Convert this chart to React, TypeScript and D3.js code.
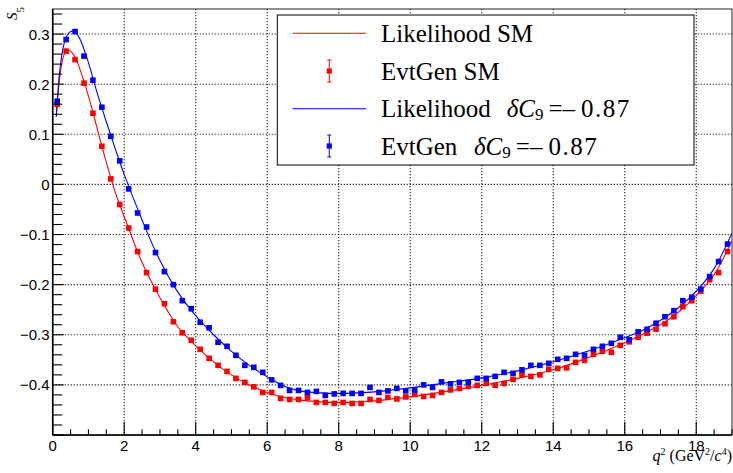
import React, { useEffect, useRef } from 'react';
import * as d3 from 'd3';

// bin centres of the EvtGen samples (GeV^2/c^4)
const qBins = [
  0.125, 0.375, 0.625, 0.875, 1.125, 1.375, 1.625, 1.875, 2.125, 2.375, 2.625, 2.875,
  3.125, 3.375, 3.625, 3.875, 4.125, 4.375, 4.625, 4.875, 5.125, 5.375, 5.625, 5.875,
  6.125, 6.375, 6.625, 6.875, 7.125, 7.375, 7.625, 7.875, 8.125, 8.375, 8.625, 8.875,
  9.125, 9.375, 9.625, 9.875, 10.125, 10.375, 10.625, 10.875, 11.125, 11.375, 11.625, 11.875,
  12.125, 12.375, 12.625, 12.875, 13.125, 13.375, 13.625, 13.875, 14.125, 14.375, 14.625, 14.875,
  15.125, 15.375, 15.625, 15.875, 16.125, 16.375, 16.625, 16.875, 17.125, 17.375, 17.625, 17.875,
  18.125, 18.375, 18.625, 18.875,
];

const evtGenSM = [
  0.160, 0.266, 0.249, 0.202, 0.142, 0.076, 0.011, -0.040, -0.087, -0.134, -0.176, -0.209,
  -0.238, -0.274, -0.296, -0.311, -0.329, -0.347, -0.361, -0.373, -0.387, -0.395, -0.404, -0.415,
  -0.415, -0.427, -0.429, -0.429, -0.425, -0.435, -0.435, -0.437, -0.435, -0.437, -0.437, -0.429,
  -0.431, -0.425, -0.428, -0.424, -0.419, -0.423, -0.421, -0.415, -0.410, -0.407, -0.403, -0.401,
  -0.397, -0.401, -0.397, -0.389, -0.380, -0.383, -0.380, -0.369, -0.367, -0.366, -0.355, -0.351,
  -0.339, -0.333, -0.335, -0.321, -0.314, -0.305, -0.297, -0.289, -0.278, -0.264, -0.244, -0.232,
  -0.213, -0.190, -0.176, -0.134,
];

const evtGenC9 = [
  0.166, 0.289, 0.305, 0.256, 0.208, 0.154, 0.096, 0.047, -0.009, -0.057, -0.085, -0.136,
  -0.174, -0.200, -0.232, -0.248, -0.275, -0.286, -0.315, -0.323, -0.341, -0.361, -0.365, -0.375,
  -0.390, -0.401, -0.411, -0.411, -0.415, -0.413, -0.421, -0.418, -0.417, -0.417, -0.417, -0.405,
  -0.415, -0.412, -0.407, -0.412, -0.410, -0.400, -0.405, -0.394, -0.398, -0.395, -0.395, -0.387,
  -0.387, -0.383, -0.375, -0.377, -0.370, -0.361, -0.361, -0.357, -0.349, -0.347, -0.339, -0.341,
  -0.329, -0.323, -0.317, -0.305, -0.310, -0.294, -0.289, -0.277, -0.264, -0.252, -0.232, -0.225,
  -0.209, -0.184, -0.154, -0.119,
];

// likelihood curves, read at these q^2 nodes
const qCurve = [
  0.1, 0.15, 0.2, 0.3, 0.4, 0.5, 0.6, 0.7, 0.8, 1.0, 1.25, 1.5, 1.75, 2, 2.5, 3, 3.5, 4, 4.5, 5,
  5.5, 6, 6.5, 7, 7.5, 8, 8.5, 9, 9.5, 10, 11, 12, 13, 14, 15, 16, 16.5, 17, 17.5, 18, 18.5, 19,
];
const likelihoodSM = [
  0.135, 0.180, 0.215, 0.255, 0.268, 0.266, 0.257, 0.242, 0.222, 0.176, 0.110, 0.044, -0.016, -0.064,
  -0.156, -0.226, -0.284, -0.322, -0.354, -0.380, -0.400, -0.415, -0.425, -0.431, -0.434, -0.435,
  -0.434, -0.432, -0.428, -0.424, -0.413, -0.401, -0.387, -0.370, -0.345, -0.316, -0.299, -0.280,
  -0.255, -0.222, -0.180, -0.112,
];
const likelihoodC9 = [
  0.135, 0.190, 0.228, 0.276, 0.297, 0.305, 0.305, 0.298, 0.284, 0.243, 0.181, 0.125, 0.071, 0.020,
  -0.071, -0.152, -0.215, -0.262, -0.300, -0.333, -0.361, -0.384, -0.403, -0.413, -0.416, -0.417,
  -0.416, -0.414, -0.410, -0.406, -0.396, -0.386, -0.372, -0.354, -0.332, -0.306, -0.291, -0.271,
  -0.246, -0.213, -0.168, -0.097,
];

const xMajor = [0, 2, 4, 6, 8, 10, 12, 14, 16, 18];
const yMajor = [-0.4, -0.3, -0.2, -0.1, 0, 0.1, 0.2, 0.3];

const RED = '#ff0000';
const BLUE = '#0000ff';

const App = () => {
  const svgRef = useRef<SVGSVGElement | null>(null);

  useEffect(() => {
    const W = 733;
    const H = 473;
    const frame = { left: 52.7, right: 732, top: 9, bottom: 435 };

    const x = d3.scaleLinear().domain([0, 19]).range([frame.left, frame.right]);
    const y = d3.scaleLinear().domain([-0.5, 0.35]).range([frame.bottom, frame.top]);

    const svg = d3.select(svgRef.current);
    svg.selectAll('*').remove();
    svg.attr('width', W).attr('height', H);

    svg.append('rect').attr('width', W).attr('height', H).attr('fill', '#fff');

    svg.append('clipPath').attr('id', 'frame-clip')
      .append('rect')
      .attr('x', frame.left).attr('y', frame.top)
      .attr('width', frame.right - frame.left).attr('height', frame.bottom - frame.top);

    // grid
    const grid = svg.append('g')
      .attr('stroke', '#000')
      .attr('stroke-width', 1.1)
      .attr('stroke-dasharray', '1.2 1.8')
      .attr('stroke-opacity', 0.85);
    xMajor.filter(d => d > 0).forEach(d => {
      grid.append('line')
        .attr('x1', x(d)).attr('x2', x(d))
        .attr('y1', frame.top).attr('y2', frame.bottom);
    });
    yMajor.forEach(d => {
      grid.append('line')
        .attr('x1', frame.left).attr('x2', frame.right)
        .attr('y1', y(d)).attr('y2', y(d));
    });

    // frame
    svg.append('rect')
      .attr('x', frame.left).attr('y', frame.top)
      .attr('width', frame.right - frame.left).attr('height', frame.bottom - frame.top)
      .attr('fill', 'none').attr('stroke', '#222').attr('stroke-width', 1);

    // curves
    const plot = svg.append('g').attr('clip-path', 'url(#frame-clip)');
    const line = d3.line<number>()
      .x((_, i) => x(qCurve[i]))
      .y(d => y(d))
      .curve(d3.curveCatmullRom.alpha(0.5));

    plot.append('path').attr('d', line(likelihoodSM))
      .attr('fill', 'none').attr('stroke', RED).attr('stroke-width', 1.1);
    plot.append('path').attr('d', line(likelihoodC9))
      .attr('fill', 'none').attr('stroke', BLUE).attr('stroke-width', 1.1);

    // markers
    const s = 5.6;
    const drawPoints = (vals: number[], color: string) => {
      plot.append('g').selectAll('rect')
        .data(vals)
        .enter().append('rect')
        .attr('x', (_, i) => x(qBins[i]) - s / 2)
        .attr('y', d => y(d) - s / 2)
        .attr('width', s).attr('height', s)
        .attr('fill', color);
    };
    drawPoints(evtGenSM, RED);
    drawPoints(evtGenC9, BLUE);

    // axes (ROOT style, ticks inside)
    const axes = svg.append('g').attr('stroke', '#000');
    axes.append('line')
      .attr('x1', frame.left).attr('x2', frame.left)
      .attr('y1', frame.top).attr('y2', frame.bottom).attr('stroke-width', 1.6);
    axes.append('line')
      .attr('x1', frame.left).attr('x2', frame.right)
      .attr('y1', frame.bottom).attr('y2', frame.bottom).attr('stroke-width', 1.6);

    const xMinor = d3.range(0, 19.01, 0.5);
    xMinor.forEach(d => {
      const major = Math.abs(d / 2 - Math.round(d / 2)) < 1e-6;
      axes.append('line')
        .attr('x1', x(d)).attr('x2', x(d))
        .attr('y1', frame.bottom).attr('y2', frame.bottom - (major ? 13 : 5.7))
        .attr('stroke-width', 1.1);
    });
    const yMinor = d3.range(-0.5, 0.351, 0.02);
    yMinor.forEach(d => {
      const major = Math.abs(d * 10 - Math.round(d * 10)) < 1e-6;
      axes.append('line')
        .attr('x1', frame.left).attr('x2', frame.left + (major ? 11 : 9.5))
        .attr('y1', y(d)).attr('y2', y(d))
        .attr('stroke-width', 1.1);
    });

    const fmt = (d: number) => (d < 0 ? '\u2212' : '') + d3.format('.1f')(Math.abs(d));
    svg.append('g')
      .attr('font-family', '"Liberation Sans", Arial, sans-serif')
      .attr('font-size', 15)
      .selectAll('text')
      .data(yMajor)
      .enter().append('text')
      .attr('x', 49.5)
      .attr('y', d => y(d) + 5.5)
      .attr('text-anchor', 'end')
      .text(d => (d === 0 ? '0' : fmt(d)));

    svg.append('g')
      .attr('font-family', '"Liberation Sans", Arial, sans-serif')
      .attr('font-size', 15)
      .selectAll('text')
      .data(xMajor)
      .enter().append('text')
      .attr('x', d => x(d))
      .attr('y', 451)
      .attr('text-anchor', 'middle')
      .text(d => String(d));

    // axis titles
    const yTitle = svg.append('text')
      .attr('transform', 'translate(17,7) rotate(-90)')
      .attr('text-anchor', 'end')
      .attr('font-family', '"Liberation Serif", "Times New Roman", serif')
      .attr('font-size', 15);
    yTitle.append('tspan').attr('font-style', 'italic').text('S');
    yTitle.append('tspan').attr('font-size', 11).attr('dy', 7).text('5');

    const xTitle = svg.append('text')
      .attr('x', 732).attr('y', 461)
      .attr('text-anchor', 'end')
      .attr('font-family', '"Liberation Serif", "Times New Roman", serif')
      .attr('font-size', 16);
    xTitle.append('tspan').attr('font-style', 'italic').text('q');
    xTitle.append('tspan').attr('font-size', 10).attr('dy', -6).text('2');
    xTitle.append('tspan').attr('dy', 6).text(' (GeV');
    xTitle.append('tspan').attr('font-size', 10).attr('dy', -6).text('2');
    xTitle.append('tspan').attr('dy', 6).text('/');
    xTitle.append('tspan').attr('font-style', 'italic').text('c');
    xTitle.append('tspan').attr('font-size', 10).attr('dy', -6).text('4');
    xTitle.append('tspan').attr('dy', 6).text(')');

    // legend
    const leg = svg.append('g')
      .attr('font-family', '"Liberation Serif", "Times New Roman", serif')
      .attr('font-size', 25);
    leg.append('rect')
      .attr('x', 277.3).attr('y', 15)
      .attr('width', 416.7).attr('height', 150)
      .attr('fill', '#fff').attr('stroke', '#000').attr('stroke-width', 1);

    const rows = [33.3, 71, 108.7, 146];
    const lx1 = 292.7;
    const lx2 = 366;
    const mx = 329.3;
    const tx = 381;

    leg.append('line').attr('x1', lx1).attr('x2', lx2).attr('y1', rows[0]).attr('y2', rows[0])
      .attr('stroke', RED).attr('stroke-width', 1.1);
    leg.append('line').attr('x1', lx1).attr('x2', lx2).attr('y1', rows[2]).attr('y2', rows[2])
      .attr('stroke', BLUE).attr('stroke-width', 1.1);

    const errMarker = (cy: number, color: string) => {
      const g = leg.append('g').attr('stroke', color).attr('stroke-width', 1);
      g.append('line').attr('x1', mx).attr('x2', mx).attr('y1', cy - 11).attr('y2', cy + 11);
      g.append('line').attr('x1', mx - 2).attr('x2', mx + 2).attr('y1', cy - 11).attr('y2', cy - 11);
      g.append('line').attr('x1', mx - 2).attr('x2', mx + 2).attr('y1', cy + 11).attr('y2', cy + 11);
      leg.append('rect').attr('x', mx - 2.6).attr('y', cy - 2.6).attr('width', 5.2).attr('height', 5.2)
        .attr('fill', color);
    };
    errMarker(rows[1], RED);
    errMarker(rows[3], BLUE);

    const base = 8.5;
    leg.append('text').attr('x', tx).attr('y', rows[0] + base).text('Likelihood SM');
    leg.append('text').attr('x', tx).attr('y', rows[1] + base).text('EvtGen SM');

    const c9Label = (cy: number, word: string, dx: number) => {
      leg.append('text').attr('x', tx).attr('y', cy + base).text(word);
      const t = leg.append('text').attr('x', dx).attr('y', cy + base);
      t.append('tspan').attr('font-style', 'italic').text('\u03B4C');
      t.append('tspan').attr('font-size', 17).attr('dy', 3).text('9');
      t.append('tspan').attr('dy', -3).attr('dx', 5).text('=\u2013');
      t.append('tspan').attr('dx', 6).attr('letter-spacing', 1.5).text('0.87');
    };
    c9Label(rows[2], 'Likelihood', 506.7);
    c9Label(rows[3], 'EvtGen', 474);
  }, []);

  return <svg ref={svgRef} width={733} height={473} style={{ position: 'absolute', left: 0, top: 0 }} />;
};

export default App;
